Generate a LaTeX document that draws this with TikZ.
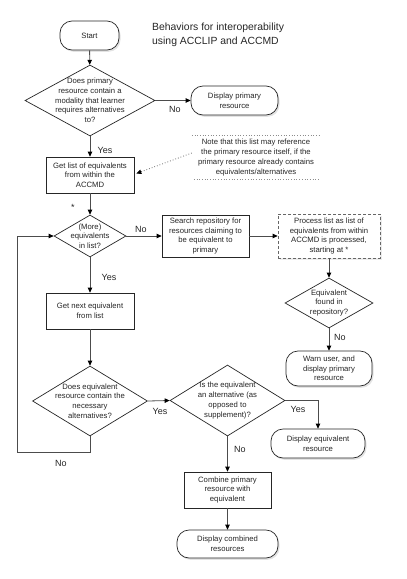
\documentclass[tikz,border=0pt]{standalone}
\usepackage{fontspec}
\setmainfont{Liberation Sans}
\usetikzlibrary{shapes.geometric,arrows.meta,shadows}
\begin{document}
\begin{tikzpicture}[x=1pt,y=-1pt,
  every node/.style={font=\fontsize{7.7}{9.7}\selectfont, align=center, text=black!85},
  box/.style={draw=black!85, line width=0.7pt, rectangle, inner sep=0, fill=white},
  term/.style={box, rounded corners=12pt, drop shadow={shadow xshift=1.5pt, shadow yshift=-1.8pt, fill=black!22}},
  dia/.style={draw=black!85, line width=0.7pt, diamond, inner sep=0, fill=white},
  dashbox/.style={box, draw=black!60, dash pattern=on 3pt off 2pt, drop shadow={shadow xshift=1.5pt, shadow yshift=-1.8pt, fill=black!15}},
  lab/.style={font=\fontsize{9}{10}\selectfont, inner sep=0},
  arr/.style={draw=black!70, line width=0.8pt, -{Triangle[length=5pt,width=4.5pt,color=black]}},
  ln/.style={draw=black!70, line width=0.8pt}
]
\useasboundingbox (0,0) rectangle (407,579);

% title
\node[anchor=west, align=left, font=\fontsize{10.4}{14}\selectfont, inner sep=0] (title) at (152,35) {Behaviors for interoperability\\using ACCLIP and ACCMD};

% nodes
\node[term, minimum width=59, minimum height=29] (start) at (89.5,35.5) {Start};

\node[dia, minimum width=130, minimum height=71] (d1) at (90,100.5) {};
\node (d1t) at (d1.center) {Does primary\\resource contain a\\modality that learner\\requires alternatives\\to?};

\node[term, minimum width=87, minimum height=29] (dprim) at (234.5,100.5) {Display primary\\resource};

\node[box, minimum width=88, minimum height=36] (glist) at (90,175) {Get list of equivalents\\from within the\\ACCMD};

\node[inner sep=0, minimum width=128, minimum height=43] (note) at (256,157.5) {Note that this list may reference\\the primary resource itself, if the\\primary resource already contains\\equivalents/alternatives};
\draw[black!45, dotted, line width=0.7pt] (note.north west) -- (note.north east);
\draw[black!45, dotted, line width=0.7pt] ([xshift=2pt]note.south west) -- ([xshift=-2pt]note.south east);

\node[lab] (star) at (73,207) {*};

\node[dia, minimum width=72, minimum height=42] (d2) at (90,236) {};
\node (d2t) at (d2.center) {(More)\\equivalents\\in list?};

\node[box, minimum width=87, minimum height=42] (search) at (205.5,236) {Search repository for\\resources claiming to\\be equivalent to\\primary};

\node[dashbox, minimum width=102, minimum height=44] (process) at (329,236) {Process list as list of\\equivalents from within\\ACCMD is processed,\\starting at *};

\node[dia, minimum width=88, minimum height=50] (d3) at (329,303) {};
\node (d3t) at (d3.center) {Equivalent\\found in\\repository?};

\node[term, minimum width=86, minimum height=35] (warn) at (329,368.5) {Warn user, and\\display primary\\resource};

\node[box, minimum width=88, minimum height=36] (gnext) at (90,311) {Get next equivalent\\from list};

\node[dia, minimum width=115, minimum height=70] (d4) at (90,401) {};
\node (d4t) at (d4.center) {Does equivalent\\resource contain the\\necessary\\alternatives?};

\node[dia, minimum width=115, minimum height=71] (d5) at (227.5,400.5) {};
\node (d5t) at (d5.center) {Is the equivalent\\an alternative (as\\opposed to\\supplement)?};

\node[term, minimum width=94, minimum height=29] (deq) at (318,443.5) {Display equivalent\\resource};

\node[box, minimum width=87, minimum height=36] (combine) at (227.5,490) {Combine primary\\resource with\\equivalent};

\node[term, minimum width=101, minimum height=28] (dcomb) at (227.5,544) {Display combined\\resources};

% connectors
\draw[arr] (start) -- (d1);
\draw[arr] (d1.east) -- (dprim.west);
\draw[arr] (d1.south) -- (glist.north);
\draw[arr, black!60, dotted, line width=0.8pt] ([yshift=4.5pt]note.west) -- ([xshift=2pt,yshift=1.5pt]glist.east);
\draw[arr] (glist.south) -- (d2.north);
\draw[arr] (d2.east) -- (search.west);
\draw[arr] (search.east) -- (process.west);
\draw[arr] (process.south) -- (d3.north);
\draw[arr] (d3.south) -- (warn.north);
\draw[arr] (d2.south) -- (gnext.north);
\draw[arr] (gnext.south) -- (d4.north);
\draw[arr] (d4.east) -- (d5.west);
\draw[arr] (d5.east) -| (deq.north);
\draw[arr] (d5.south) -- (combine.north);
\draw[arr] (combine.south) -- (dcomb.north);
\coordinate (loop) at (17,452);
\draw[arr] (d4.south) |- (loop) |- (d2.west);

% labels
\node[lab] (l1) at (175,109) {No};
\node[lab] (l2) at (105,150) {Yes};
\node[lab] (l3) at (141,229) {No};
\node[lab] (l4) at (109,277) {Yes};
\node[lab] (l5) at (340,337) {No};
\node[lab] (l6) at (160,411) {Yes};
\node[lab] (l7) at (298,409) {Yes};
\node[lab] (l8) at (240,449) {No};
\node[lab] (l9) at (61,463) {No};
\end{tikzpicture}
\end{document}
